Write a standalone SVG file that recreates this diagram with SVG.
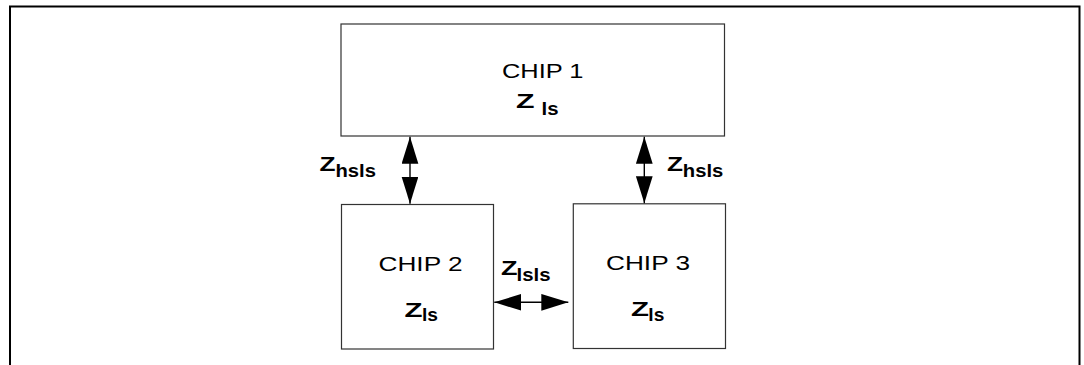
<svg xmlns="http://www.w3.org/2000/svg" width="1084" height="365" viewBox="0 0 1084 365">
  <style>
    .frame { fill: none; stroke: #000; stroke-width: 2; }
    .box { fill: #fff; stroke: #333; stroke-width: 1.2; }
    .name { font-family: "Liberation Sans", Arial, sans-serif; font-size: 21px; fill: #000; }
    .z { font-family: "Liberation Sans", Arial, sans-serif; font-size: 21px; font-weight: bold; fill: #000; }
    .sub { font-family: "Liberation Sans", Arial, sans-serif; font-size: 18px; font-weight: bold; fill: #000; }
    .conn { stroke: #000; stroke-width: 1.4; fill: none; marker-start: url(#head); marker-end: url(#head); }
  </style>
  <defs>
    <marker id="head" markerUnits="userSpaceOnUse" markerWidth="28" markerHeight="17" refX="27" refY="8.35" orient="auto-start-reverse" viewBox="0 0 28 17">
      <path d="M0,0 L27,8.35 L0,16.7 Z" fill="#000"/>
    </marker>
  </defs>
  <rect width="1084" height="365" fill="#fff"/>
  <path class="frame" d="M10,367 V6.5 H1079.5 V367"/>

  <g id="chip1">
    <rect class="box" x="341" y="24" width="383.5" height="112"/>
    <text class="name" x="502" y="78" textLength="81.5" lengthAdjust="spacingAndGlyphs">CHIP 1</text>
    <text class="z" x="516" y="108.3" textLength="18.5" lengthAdjust="spacingAndGlyphs">Z</text>
    <text class="sub" x="541.5" y="115" textLength="17" lengthAdjust="spacingAndGlyphs">ls</text>
  </g>

  <g id="chip2">
    <rect class="box" x="341.5" y="204.5" width="152" height="144.5"/>
    <text class="name" x="378.5" y="271" textLength="84" lengthAdjust="spacingAndGlyphs">CHIP 2</text>
    <text class="z" x="404.5" y="316.7" textLength="18" lengthAdjust="spacingAndGlyphs">Z</text>
    <text class="sub" x="422" y="321" textLength="16" lengthAdjust="spacingAndGlyphs">ls</text>
  </g>

  <g id="chip3">
    <rect class="box" x="573.3" y="203.8" width="152.2" height="144.7"/>
    <text class="name" x="606" y="270" textLength="84" lengthAdjust="spacingAndGlyphs">CHIP 3</text>
    <text class="z" x="631" y="316" textLength="18" lengthAdjust="spacingAndGlyphs">Z</text>
    <text class="sub" x="648.3" y="320.5" textLength="16" lengthAdjust="spacingAndGlyphs">ls</text>
  </g>

  <g id="connectors">
    <line class="conn" x1="410" y1="136.7" x2="410" y2="203.8"/>
    <line class="conn" x1="644.3" y1="136.7" x2="644.3" y2="203.3"/>
    <line class="conn" x1="494.3" y1="302.3" x2="568.3" y2="302.3"/>
  </g>

  <g id="label-hsls-left">
    <text class="z" x="319.5" y="170.7" font-size="20" style="font-size:20px" textLength="16" lengthAdjust="spacingAndGlyphs">Z</text>
    <text class="sub" x="335.5" y="176.7" textLength="40.5" lengthAdjust="spacingAndGlyphs">hsls</text>
  </g>
  <g id="label-hsls-right">
    <text class="z" x="667" y="170.7" style="font-size:20px" textLength="16" lengthAdjust="spacingAndGlyphs">Z</text>
    <text class="sub" x="682.8" y="176.7" textLength="40.5" lengthAdjust="spacingAndGlyphs">hsls</text>
  </g>
  <g id="label-lsls">
    <text class="z" x="501" y="275" style="font-size:20px" textLength="16.5" lengthAdjust="spacingAndGlyphs">Z</text>
    <text class="sub" x="516.5" y="281" textLength="34" lengthAdjust="spacingAndGlyphs">lsls</text>
  </g>
</svg>
